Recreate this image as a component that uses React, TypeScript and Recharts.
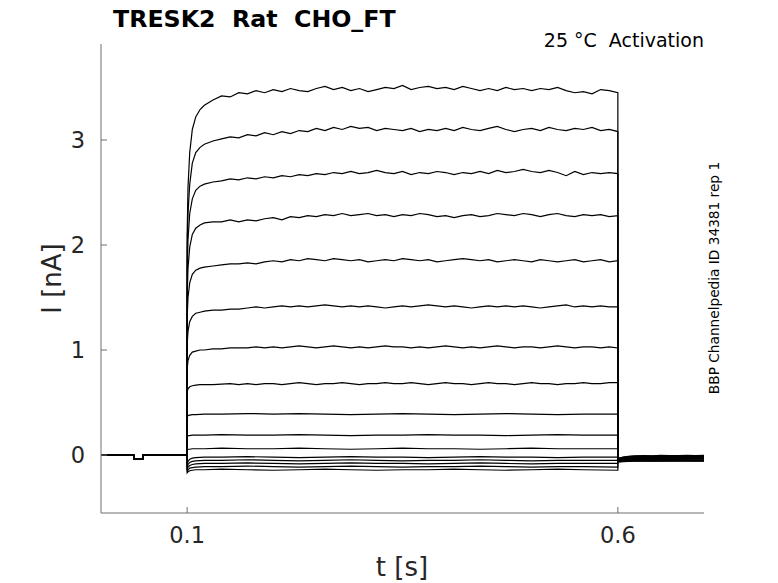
import React from 'react'
import { LineChart, Line, XAxis, YAxis } from 'recharts'

// time grids (s)
const preTimes = [0, 0.038, 0.038, 0.049, 0.049, 0.1]
const preValues = [0, 0, -0.035, -0.035, 0, 0]

const stepTimes = [
  0.1, 0.101, 0.103, 0.106, 0.11, 0.115, 0.12, 0.13, 0.14, 0.15,
  0.16, 0.17, 0.18, 0.19, 0.2, 0.21, 0.22, 0.23, 0.24, 0.25,
  0.26, 0.27, 0.28, 0.29, 0.3, 0.31, 0.32, 0.33, 0.34, 0.35,
  0.36, 0.37, 0.38, 0.39, 0.4, 0.41, 0.42, 0.43, 0.44, 0.45,
  0.46, 0.47, 0.48, 0.49, 0.5, 0.51, 0.52, 0.53, 0.54, 0.55,
  0.56, 0.57, 0.58, 0.59, 0.6,
]

const flatTimes = [
  0.1, 0.101, 0.103, 0.106, 0.11, 0.12, 0.14, 0.17, 0.2, 0.23, 0.26,
  0.29, 0.32, 0.35, 0.38, 0.41, 0.44, 0.47, 0.5, 0.53, 0.56, 0.6,
]

const tailTimes = [0.6, 0.602, 0.606, 0.612, 0.62, 0.63, 0.64, 0.65, 0.66, 0.67, 0.68, 0.69, 0.7]

// current during the step (nA), larger traces
const step1 = [
  2.1, 2.55, 2.88, 3.1, 3.22, 3.29, 3.33, 3.38, 3.42, 3.41,
  3.45, 3.44, 3.47, 3.45, 3.48, 3.46, 3.49, 3.47, 3.46, 3.49,
  3.51, 3.48, 3.5, 3.47, 3.49, 3.46, 3.48, 3.5, 3.49, 3.52,
  3.48, 3.5, 3.51, 3.49, 3.5, 3.48, 3.51, 3.49, 3.47, 3.49,
  3.47, 3.5, 3.48, 3.49, 3.47, 3.49, 3.48, 3.5, 3.47, 3.45,
  3.46, 3.44, 3.48, 3.47, 3.45,
]
const step2 = [
  1.95, 2.3, 2.58, 2.78, 2.88, 2.93, 2.96, 2.99, 3.01, 3.03,
  3.02, 3.05, 3.04, 3.07, 3.05, 3.08, 3.06, 3.09, 3.08, 3.11,
  3.09, 3.12, 3.1, 3.13, 3.11, 3.12, 3.09, 3.11, 3.1, 3.09,
  3.11, 3.08, 3.1, 3.09, 3.11, 3.09, 3.12, 3.1, 3.09, 3.11,
  3.13, 3.1, 3.08, 3.1, 3.11, 3.09, 3.12, 3.1, 3.09, 3.11,
  3.1, 3.12, 3.09, 3.1, 3.08,
]
const step3 = [
  1.75, 2.05, 2.3, 2.44, 2.52, 2.56, 2.58, 2.6, 2.61, 2.63,
  2.62, 2.64, 2.63, 2.65, 2.64, 2.66, 2.65, 2.67, 2.66, 2.68,
  2.67, 2.69, 2.68, 2.7, 2.68, 2.69, 2.71, 2.69, 2.68, 2.7,
  2.67, 2.69, 2.68, 2.7, 2.69, 2.67, 2.69, 2.68, 2.7, 2.68,
  2.71, 2.69, 2.7, 2.72, 2.7, 2.69, 2.71, 2.69, 2.66, 2.7,
  2.67, 2.69, 2.68, 2.69, 2.68,
]
const step4 = [
  1.5, 1.78, 1.98, 2.1, 2.16, 2.19, 2.21, 2.22, 2.22, 2.24,
  2.22, 2.24, 2.23, 2.25, 2.26, 2.24, 2.27, 2.26, 2.28, 2.27,
  2.29, 2.28, 2.3, 2.28, 2.29, 2.3, 2.28, 2.29, 2.27, 2.29,
  2.28, 2.3, 2.29, 2.27, 2.28, 2.26, 2.28, 2.29, 2.27, 2.28,
  2.3, 2.29, 2.28, 2.3, 2.29, 2.27, 2.29, 2.3, 2.28, 2.27,
  2.29, 2.28, 2.29, 2.27, 2.28,
]
const step5 = [
  1.3, 1.5, 1.64, 1.72, 1.76, 1.78, 1.79, 1.8, 1.81, 1.82,
  1.82, 1.83, 1.82, 1.84, 1.85, 1.84, 1.86, 1.85, 1.87, 1.86,
  1.85, 1.87, 1.86, 1.85, 1.86, 1.84, 1.85, 1.86, 1.85, 1.87,
  1.86, 1.85, 1.86, 1.84, 1.85, 1.86, 1.87, 1.86, 1.85, 1.86,
  1.84, 1.85, 1.86, 1.85, 1.84, 1.86, 1.85, 1.84, 1.85, 1.86,
  1.84, 1.85, 1.86, 1.84, 1.85,
]
const step6 = [
  1.05, 1.18, 1.27, 1.32, 1.35, 1.36, 1.37, 1.38, 1.38, 1.39,
  1.39, 1.4, 1.41, 1.4, 1.41, 1.42, 1.41, 1.42, 1.41, 1.42,
  1.43, 1.42, 1.41, 1.42, 1.41, 1.42, 1.41, 1.4, 1.41, 1.42,
  1.41, 1.42, 1.43, 1.42, 1.41, 1.42, 1.41, 1.4, 1.41, 1.42,
  1.41, 1.42, 1.41, 1.42, 1.41, 1.4, 1.41, 1.42, 1.43, 1.41,
  1.42, 1.41, 1.42, 1.41, 1.41,
]
const step7 = [
  0.82, 0.9, 0.95, 0.98, 0.99, 1.0, 1.0, 1.01, 1.01, 1.02,
  1.02, 1.02, 1.03, 1.02, 1.03, 1.02, 1.03, 1.04, 1.03, 1.02,
  1.03, 1.04, 1.03, 1.02, 1.03, 1.02, 1.03, 1.04, 1.03, 1.03,
  1.02, 1.03, 1.02, 1.03, 1.04, 1.03, 1.02, 1.03, 1.02, 1.03,
  1.04, 1.03, 1.02, 1.03, 1.03, 1.02, 1.03, 1.04, 1.03, 1.02,
  1.03, 1.03, 1.02, 1.03, 1.02,
]
const step8 = [
  0.6, 0.63, 0.65, 0.66, 0.665, 0.67, 0.67, 0.67, 0.675, 0.68,
  0.67, 0.68, 0.67, 0.68, 0.68, 0.67, 0.68, 0.69, 0.68, 0.67,
  0.68, 0.68, 0.69, 0.68, 0.67, 0.68, 0.68, 0.69, 0.68, 0.68,
  0.69, 0.68, 0.67, 0.68, 0.69, 0.68, 0.68, 0.67, 0.68, 0.69,
  0.68, 0.68, 0.67, 0.68, 0.69, 0.68, 0.68, 0.67, 0.68, 0.68,
  0.69, 0.68, 0.68, 0.69, 0.69,
]

// smaller traces on the sparse grid
const step9 = [0.37, 0.375, 0.38, 0.385, 0.385, 0.39, 0.39, 0.395, 0.39, 0.395, 0.39, 0.385, 0.39, 0.395, 0.39, 0.385, 0.39, 0.395, 0.39, 0.385, 0.39, 0.39]
const step10 = [0.18, 0.185, 0.185, 0.19, 0.19, 0.19, 0.195, 0.19, 0.19, 0.195, 0.19, 0.185, 0.19, 0.19, 0.195, 0.19, 0.19, 0.185, 0.19, 0.195, 0.19, 0.19]
const step11 = [0.05, 0.055, 0.055, 0.06, 0.06, 0.06, 0.065, 0.06, 0.06, 0.065, 0.06, 0.055, 0.06, 0.065, 0.06, 0.06, 0.055, 0.06, 0.065, 0.06, 0.06, 0.06]
const step12 = [-0.09, -0.06, -0.04, -0.03, -0.025, -0.02, -0.02, -0.015, -0.02, -0.025, -0.02, -0.015, -0.02, -0.02, -0.025, -0.02, -0.015, -0.02, -0.02, -0.025, -0.02, -0.02]
const step13 = [-0.12, -0.09, -0.07, -0.06, -0.055, -0.05, -0.05, -0.045, -0.05, -0.055, -0.05, -0.045, -0.05, -0.055, -0.05, -0.05, -0.045, -0.05, -0.055, -0.05, -0.05, -0.05]
const step14 = [-0.14, -0.115, -0.1, -0.09, -0.085, -0.08, -0.08, -0.075, -0.08, -0.085, -0.08, -0.075, -0.08, -0.08, -0.085, -0.08, -0.075, -0.08, -0.085, -0.08, -0.08, -0.08]
const step15 = [-0.16, -0.14, -0.125, -0.12, -0.115, -0.11, -0.11, -0.105, -0.11, -0.115, -0.11, -0.105, -0.11, -0.115, -0.11, -0.11, -0.105, -0.11, -0.115, -0.11, -0.11, -0.115]
const step16 = [-0.17, -0.16, -0.15, -0.145, -0.14, -0.14, -0.135, -0.14, -0.145, -0.14, -0.135, -0.14, -0.145, -0.14, -0.14, -0.135, -0.14, -0.145, -0.14, -0.135, -0.14, -0.145]

// tail currents after the step
const tail1 = [-0.06, -0.055, -0.05, -0.045, -0.04, -0.042, -0.038, -0.041, -0.039, -0.042, -0.04, -0.038, -0.04]
const tail2 = [-0.058, -0.052, -0.047, -0.043, -0.038, -0.036, -0.039, -0.037, -0.035, -0.038, -0.036, -0.039, -0.037]
const tail3 = [-0.055, -0.05, -0.045, -0.04, -0.035, -0.033, -0.035, -0.032, -0.034, -0.031, -0.034, -0.032, -0.033]
const tail4 = [-0.052, -0.047, -0.042, -0.037, -0.032, -0.03, -0.031, -0.029, -0.031, -0.028, -0.03, -0.029, -0.03]
const tail5 = [-0.05, -0.045, -0.04, -0.034, -0.029, -0.027, -0.028, -0.025, -0.027, -0.026, -0.028, -0.025, -0.027]
const tail6 = [-0.048, -0.042, -0.037, -0.031, -0.026, -0.024, -0.025, -0.022, -0.024, -0.023, -0.021, -0.024, -0.022]
const tail7 = [-0.046, -0.04, -0.034, -0.028, -0.023, -0.021, -0.022, -0.019, -0.021, -0.02, -0.018, -0.021, -0.019]
const tail8 = [-0.044, -0.037, -0.031, -0.025, -0.02, -0.018, -0.019, -0.016, -0.018, -0.017, -0.015, -0.018, -0.016]
const tail9 = [-0.042, -0.035, -0.028, -0.022, -0.017, -0.015, -0.016, -0.013, -0.015, -0.014, -0.012, -0.015, -0.013]
const tail10 = [-0.04, -0.032, -0.025, -0.019, -0.014, -0.012, -0.013, -0.01, -0.012, -0.011, -0.009, -0.012, -0.01]
const tail11 = [-0.038, -0.03, -0.022, -0.016, -0.011, -0.009, -0.01, -0.007, -0.009, -0.008, -0.006, -0.009, -0.007]
const tail12 = [-0.036, -0.028, -0.02, -0.013, -0.008, -0.006, -0.007, -0.004, -0.006, -0.005, -0.003, -0.006, -0.004]
const tail13 = [-0.062, -0.058, -0.054, -0.05, -0.048, -0.05, -0.047, -0.049, -0.046, -0.049, -0.047, -0.05, -0.048]
const tail14 = [-0.064, -0.06, -0.057, -0.054, -0.052, -0.053, -0.051, -0.053, -0.05, -0.052, -0.051, -0.053, -0.052]
const tail15 = [-0.066, -0.062, -0.06, -0.057, -0.055, -0.056, -0.054, -0.056, -0.053, -0.055, -0.054, -0.056, -0.055]
const tail16 = [-0.068, -0.065, -0.062, -0.06, -0.058, -0.059, -0.057, -0.058, -0.056, -0.058, -0.057, -0.059, -0.058]

const xTicks = [0.1, 0.6]
const yTicks = [0, 1, 2, 3]

const zip = (ts: number[], vs: number[]) => ts.map((t, k) => ({ t, i: vs[k] }))

const build = (stepT: number[], stepV: number[], tailV: number[]) => [
  ...zip(preTimes, preValues),
  ...zip(stepT, stepV),
  ...zip(tailTimes, tailV),
]

const traces = [
  build(stepTimes, step1, tail1),
  build(stepTimes, step2, tail2),
  build(stepTimes, step3, tail3),
  build(stepTimes, step4, tail4),
  build(stepTimes, step5, tail5),
  build(stepTimes, step6, tail6),
  build(stepTimes, step7, tail7),
  build(stepTimes, step8, tail8),
  build(flatTimes, step9, tail9),
  build(flatTimes, step10, tail10),
  build(flatTimes, step11, tail11),
  build(flatTimes, step12, tail12),
  build(flatTimes, step13, tail13),
  build(flatTimes, step14, tail14),
  build(flatTimes, step15, tail15),
  build(flatTimes, step16, tail16),
]

const font = 'DejaVu Sans'
const axisColor = '#6e6e6e'
const textColor = '#262626'

const YTick = (props: any) => {
  const { x, y, payload } = props
  return (
    <g>
      <line x1={x} x2={x + 6} y1={y} y2={y} stroke={axisColor} strokeWidth={1} />
      <text x={x - 16} y={y} dy="0.36em" textAnchor="end" fontSize={22.5} fontFamily={font} fill={textColor}>
        {payload.value}
      </text>
    </g>
  )
}

const XTick = (props: any) => {
  const { x, y, payload } = props
  return (
    <g>
      <line x1={x} x2={x} y1={y} y2={y - 6} stroke={axisColor} strokeWidth={1} />
      <text x={x} y={y + 30} textAnchor="middle" fontSize={22.5} fontFamily={font} fill={textColor}>
        {payload.value}
      </text>
    </g>
  )
}

export default function App() {
  return (
    <div style={{ position: 'absolute', left: 0, top: 0, width: 778, height: 583, background: '#fff' }}>
      <LineChart width={778} height={583} margin={{ top: 44, right: 74, bottom: 69, left: 100 }}>
        <XAxis
          dataKey="t"
          type="number"
          domain={[0, 0.7]}
          ticks={xTicks}
          allowDataOverflow
          height={1}
          tickSize={0}
          tickMargin={0}
          tickLine={false}
          axisLine={{ stroke: axisColor }}
          tick={<XTick />}
        />
        <YAxis
          type="number"
          domain={[-0.552, 3.914]}
          ticks={yTicks}
          allowDataOverflow
          width={1}
          tickSize={0}
          tickMargin={0}
          tickLine={false}
          axisLine={{ stroke: axisColor }}
          tick={<YTick />}
        />
        {traces.map((d, k) => (
          <Line
            key={k}
            data={d}
            dataKey="i"
            type="linear"
            stroke="#000"
            strokeWidth={1.2}
            dot={false}
            activeDot={false}
            isAnimationActive={false}
          />
        ))}
      </LineChart>
      <svg width={778} height={583} style={{ position: 'absolute', left: 0, top: 0, pointerEvents: 'none' }}>
        <text x={113} y={27} fontSize={23.7} fontWeight="bold" fontFamily={font} fill="#000" style={{ whiteSpace: 'pre' }}>
          TRESK2  Rat  CHO_FT
        </text>
        <text x={704} y={47} fontSize={19} textAnchor="end" fontFamily={font} fill="#000" style={{ whiteSpace: 'pre' }}>
          25 °C  Activation
        </text>
        <text x={61} y={278.5} fontSize={26} textAnchor="middle" fontFamily={font} fill={textColor} transform="rotate(-90 61 278.5)">
          I [nA]
        </text>
        <text x={402} y={576} fontSize={26} textAnchor="middle" fontFamily={font} fill={textColor}>
          t [s]
        </text>
        <text x={719} y={278} fontSize={13.7} textAnchor="middle" fontFamily={font} fill="#000" transform="rotate(-90 719 278)">
          BBP Channelpedia ID 34381 rep 1
        </text>
      </svg>
    </div>
  )
}
